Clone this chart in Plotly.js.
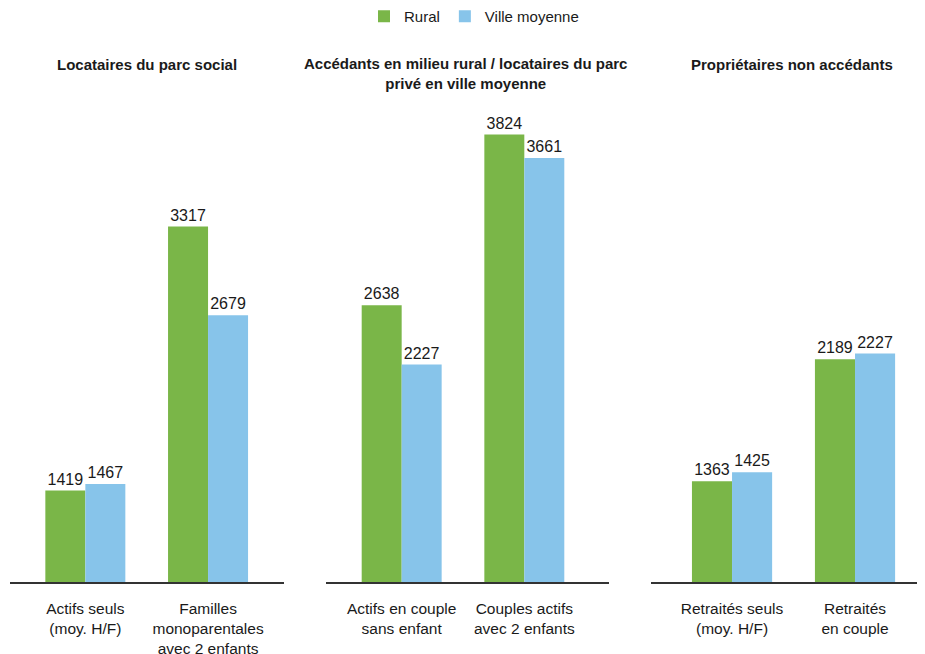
<!DOCTYPE html>
<html>
<head>
<meta charset="utf-8">
<script src="https://cdn.plot.ly/plotly-3.0.1.min.js"></script>
<style>html,body{margin:0;padding:0;background:#fff;}#chart{width:925px;height:654px;}</style>
</head>
<body>
<div id="chart"></div>
<script>
const seriesNames = ["Rural", "Ville moyenne"];
const panelTitles = [
  "Locataires du parc social",
  "Accédants en milieu rural / locataires du parc<br>privé en ville moyenne",
  "Propriétaires non accédants"
];
const categories1 = ["Actifs seuls<br>(moy. H/F)", "Familles<br>monoparentales<br>avec 2 enfants"];
const rural1 = [1419, 3317];
const ville1 = [1467, 2679];
const categories2 = ["Actifs en couple<br>sans enfant", "Couples actifs<br>avec 2 enfants"];
const rural2 = [2638, 3824];
const ville2 = [2227, 3661];
const categories3 = ["Retraités seuls<br>(moy. H/F)", "Retraités<br>en couple"];
const rural3 = [1363, 2189];
const ville3 = [1425, 2227];

const GREEN = "#7AB648";
const BLUE = "#87C4EA";
const FONT = "'Liberation Sans', Arial, Helvetica, sans-serif";
const TXT = "#1a1a1a";

const panels = [
  {cats: categories1, r: rural1, v: ville1, xa: "x", ya: "y"},
  {cats: categories2, r: rural2, v: ville2, xa: "x2", ya: "y2"},
  {cats: categories3, r: rural3, v: ville3, xa: "x3", ya: "y3"}
];

const data = [];
panels.forEach((p, i) => {
  [[p.r, GREEN, 0], [p.v, BLUE, 1]].forEach(([vals, col, k]) => {
    data.push({
      type: "bar",
      x: p.cats,
      y: vals,
      xaxis: p.xa,
      yaxis: p.ya,
      name: seriesNames[k],
      legendgroup: seriesNames[k],
      showlegend: i === 0,
      marker: {color: col, line: {width: 0}},
      text: vals.map(String),
      textposition: "outside",
      constraintext: "none",
      textfont: {family: FONT, size: 16, color: TXT},
      hoverinfo: "skip"
    });
  });
});

const W = 925, H = 654;
const yDom = [(H - 582) / H, (H - 100) / H];
function xaxis(px0, px1, range) {
  return {
    domain: [px0 / W, px1 / W],
    range: range,
    type: "category",
    showline: true, linecolor: "#333", linewidth: 1.5,
    showgrid: false, zeroline: false,
    ticks: "", ticklabelstandoff: 12,
    tickfont: {family: FONT, size: 15.5, color: TXT},
    fixedrange: true
  };
}
function yaxis(anchor, range) {
  return {
    domain: yDom, range: range, anchor: anchor,
    visible: false, showgrid: false, zeroline: false, fixedrange: true
  };
}

const layout = {
  width: W, height: H,
  margin: {l: 0, r: 0, t: 0, b: 0},
  paper_bgcolor: "#fff", plot_bgcolor: "#fff",
  barmode: "group", bargap: 0.348, bargroupgap: 0,
  font: {family: FONT, color: TXT},
  showlegend: true,
  legend: {
    orientation: "h", x: 474 / W, xanchor: "center", y: 1, yanchor: "top",
    font: {family: FONT, size: 15, color: TXT},
    traceorder: "normal"
  },
  xaxis: Object.assign(xaxis(10, 284, [-0.614, 1.619]), {anchor: "y"}),
  yaxis: yaxis("x", [762, 4227]),
  xaxis2: Object.assign(xaxis(326, 608.7, [-0.617, 1.688]), {anchor: "y2"}),
  yaxis2: yaxis("x2", [717, 4064]),
  xaxis3: Object.assign(xaxis(651, 917, [-0.659, 1.504]), {anchor: "y3"}),
  yaxis3: yaxis("x3", [683, 3940]),
  annotations: [
    {text: panelTitles[0], x: 147 / W, y: (H - 64) / H},
    {text: panelTitles[1], x: 466 / W, y: (H - 64) / H},
    {text: panelTitles[2], x: 792 / W, y: (H - 64) / H}
  ].map(a => Object.assign(a, {
    xref: "paper", yref: "paper", xanchor: "center", yanchor: "middle",
    showarrow: false, align: "center",
    font: {family: FONT, size: 15, color: TXT, weight: "bold"}
  }))
};
layout.annotations[1].yanchor = "top";
layout.annotations[1].y = (H - 53) / H;

Plotly.newPlot("chart", data, layout, {displayModeBar: false, staticPlot: true});
</script>
</body>
</html>
